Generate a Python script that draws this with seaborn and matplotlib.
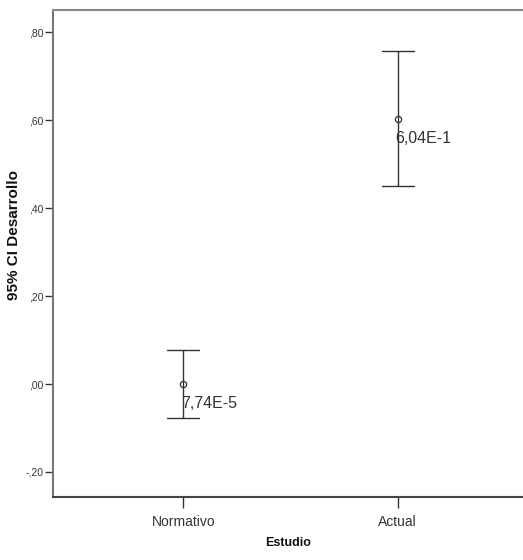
import numpy as np
import pandas as pd
import matplotlib
matplotlib.use("Agg")
import matplotlib.pyplot as plt
import seaborn as sns

# Study groups and their 95% confidence intervals for "Desarrollo"
estudios = ["Normativo", "Actual"]
medias = [7.74e-5, 0.604]
ci_inferior = [-0.077, 0.450]
ci_superior = [0.077, 0.757]
etiquetas_media = ["7,74E-5", "6,04E-1"]

y_ticks = [-0.20, 0.00, 0.20, 0.40, 0.60, 0.80]
y_tick_labels = ["-,20", ",00", ",20", ",40", ",60", ",80"]

sns.set_theme(style="white")
plt.rcParams["font.family"] = ["Liberation Sans", "DejaVu Sans"]

# long-form table: lower bound, mean and upper bound per study
df = pd.DataFrame({
    "Estudio": np.repeat(estudios, 3),
    "Desarrollo": np.ravel(np.column_stack([ci_inferior, medias, ci_superior])),
})

fig = plt.figure(figsize=(5.23, 5.6), dpi=100)
ax = fig.add_axes([53 / 523, 63 / 560, 1 - 53 / 523 + 0.002, (497 - 9.5) / 560])

sns.pointplot(
    data=df, x="Estudio", y="Desarrollo", order=estudios,
    estimator="median", errorbar=("pi", 100),
    linestyle="none", markers="o", capsize=0.15,
    color="#333333", markersize=4.5, markerfacecolor="white",
    markeredgewidth=0.9, err_kws={"linewidth": 1.0}, ax=ax,
)

# mean value printed just below each point
for i, lab in enumerate(etiquetas_media):
    ax.text(i - 0.01, medias[i] - 0.028, lab, ha="left", va="top",
            fontsize=11.5, color="#333333")

ax.set_xlim(-130 / 214, 1 + 126 / 214)
ax.set_ylim(-0.257, 0.852)
ax.set_yticks(y_ticks)
ax.set_yticklabels(y_tick_labels)

ax.tick_params(axis="y", length=6, width=1, color="#333333",
               labelsize=7.5, labelcolor="#333333", left=True, pad=1)
ax.tick_params(axis="x", length=8, width=1, color="#333333",
               labelsize=10, labelcolor="#333333", bottom=True, pad=5)

ax.set_xlabel("Estudio", fontsize=9, fontweight="bold", color="#111111", labelpad=6)
ax.set_ylabel("95% CI Desarrollo", fontsize=11, fontweight="bold", color="#111111")
ax.yaxis.set_label_coords(-32 / 470, (497 - 235) / 487.5)

for side in ["left", "bottom", "top"]:
    ax.spines[side].set_visible(True)
    ax.spines[side].set_linewidth(1.5)
ax.spines["left"].set_color("#777777")
ax.spines["top"].set_color("#888888")
ax.spines["bottom"].set_color("#444444")
ax.spines["right"].set_visible(False)

fig.savefig("out.png", dpi=100, facecolor="white")
